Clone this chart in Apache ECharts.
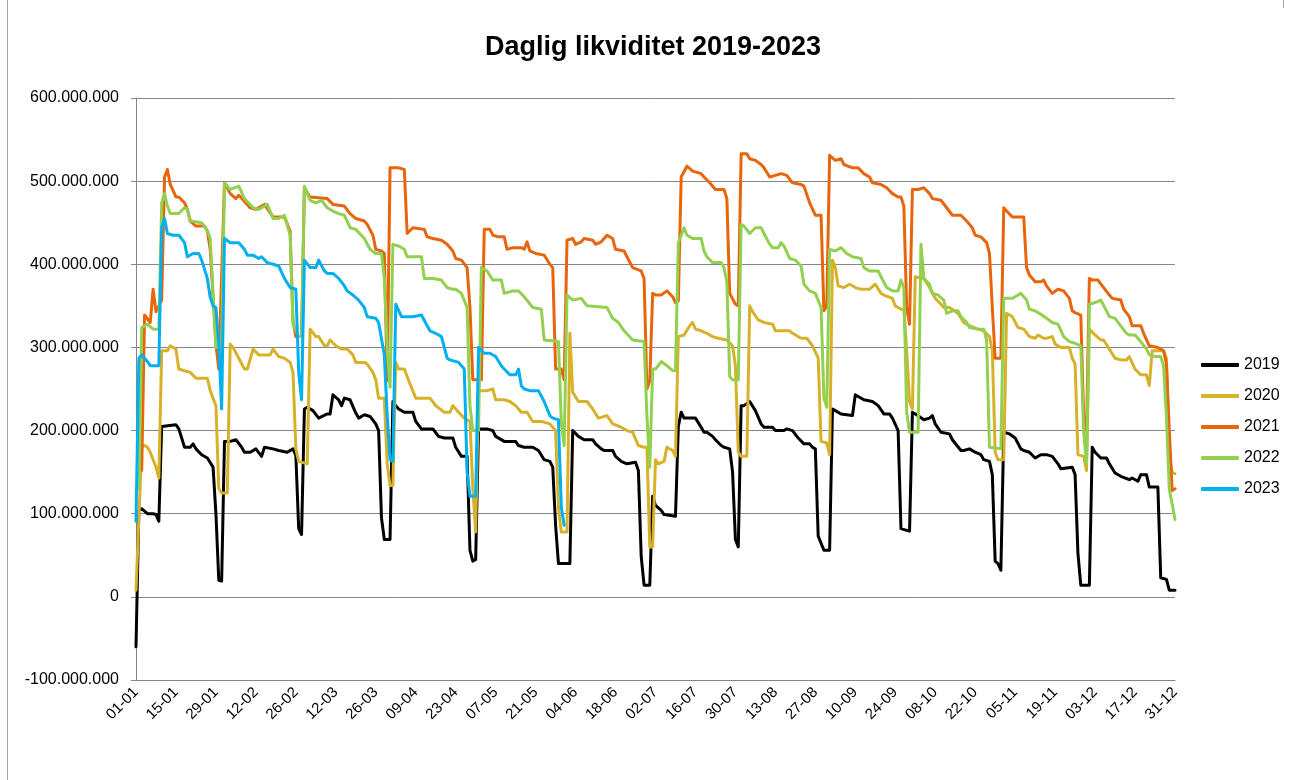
<!DOCTYPE html>
<html>
<head>
<meta charset="utf-8">
<title>Daglig likviditet 2019-2023</title>
<script src="https://cdn.jsdelivr.net/npm/echarts@6/dist/echarts.min.js"></script>
<style>
html, body { margin: 0; padding: 0; background: #fff; }
#chart { width: 1290px; height: 780px; }
</style>
</head>
<body>
<div id="chart"></div>
<script>
// datoetiketter på x-aksen, hver 14. dag (dag 0 = 01-01)
const tickLabels = ['01-01', '15-01', '29-01', '12-02', '26-02', '12-03', '26-03', '09-04', '23-04',
  '07-05', '21-05', '04-06', '18-06', '02-07', '16-07', '30-07', '13-08', '27-08', '10-09',
  '24-09', '08-10', '22-10', '05-11', '19-11', '03-12', '17-12', '31-12']
const years = ['2019', '2020', '2021', '2022', '2023']
const colors = ['#000000', '#d8b12a', '#e8650c', '#92d050', '#00b0f0']

// [dag i året, likviditet i mio.]
const y2019 = [[0, -60], [1, 104], [2, 106], [4, 100], [6, 100], [7, 99], [8, 91], [9, 205], [14, 207], [15, 202],
  [16, 191], [17, 180], [19, 180], [20, 184], [21, 178], [23, 171], [25, 167], [27, 156], [28, 100], [29, 20],
  [30, 19], [31, 187], [33, 187], [35, 189], [37, 180], [38, 174], [40, 174], [42, 178], [44, 169], [45, 180],
  [48, 178], [50, 176], [53, 174], [55, 178], [56, 170], [57, 82], [58, 75], [59, 226], [60, 228], [62, 224],
  [64, 215], [67, 220], [68, 220], [69, 243], [71, 237], [72, 230], [73, 239], [75, 237], [77, 221], [78, 215],
  [80, 219], [82, 217], [84, 208], [85, 200], [86, 95], [87, 69], [89, 69], [90, 235], [91, 230], [92, 226],
  [94, 222], [97, 222], [98, 211], [100, 202], [104, 202], [106, 193], [108, 191], [111, 191], [112, 180], [114, 169],
  [116, 169], [117, 56], [118, 43], [119, 45], [120, 202], [123, 202], [125, 200], [126, 193], [129, 187], [133, 187],
  [134, 182], [136, 180], [139, 180], [141, 176], [143, 165], [145, 163], [146, 156], [147, 86], [148, 40], [152, 40],
  [153, 200], [155, 193], [157, 189], [160, 189], [161, 184], [163, 178], [164, 176], [167, 176], [168, 169], [170, 163],
  [172, 160], [175, 162], [176, 152], [177, 48], [178, 14], [180, 14], [181, 121], [182, 110], [184, 104], [185, 99],
  [189, 97], [190, 205], [191, 222], [192, 215], [196, 215], [198, 204], [199, 198], [200, 198], [202, 193], [203, 189],
  [205, 182], [206, 180], [208, 178], [209, 150], [210, 69], [211, 60], [212, 230], [213, 230], [215, 235], [217, 224],
  [219, 208], [220, 204], [223, 204], [224, 200], [227, 200], [228, 202], [230, 200], [232, 191], [234, 184], [236, 184],
  [237, 180], [238, 178], [239, 73], [241, 56], [243, 56], [244, 226], [245, 224], [247, 220], [251, 218], [252, 243],
  [253, 241], [255, 237], [258, 235], [260, 230], [262, 220], [264, 220], [265, 215], [267, 200], [268, 82], [270, 80],
  [271, 79], [272, 222], [274, 218], [276, 213], [278, 215], [279, 218], [280, 208], [282, 198], [285, 196], [286, 189],
  [289, 176], [290, 176], [292, 178], [294, 174], [296, 171], [297, 165], [299, 163], [300, 147], [301, 43], [302, 40],
  [303, 32], [304, 198], [306, 196], [308, 191], [310, 178], [311, 176], [313, 174], [315, 167], [317, 171], [319, 171],
  [321, 169], [323, 160], [324, 154], [328, 156], [329, 147], [330, 52], [331, 14], [334, 14], [335, 180], [336, 174],
  [338, 167], [340, 167], [341, 160], [343, 149], [345, 145], [348, 141], [349, 143], [351, 139], [352, 147], [354, 147],
  [355, 132], [358, 132], [359, 23], [361, 21], [362, 8], [364, 8]]

const y2020 = [[0, 8], [2, 180], [3, 182], [4, 180], [5, 174], [7, 156], [8, 143], [9, 296], [11, 296], [12, 302],
  [14, 298], [15, 274], [17, 272], [19, 270], [21, 263], [25, 263], [26, 248], [28, 230], [29, 130], [30, 125],
  [32, 125], [33, 304], [34, 300], [36, 287], [38, 274], [39, 274], [41, 298], [43, 291], [47, 291], [48, 298],
  [50, 289], [52, 287], [54, 282], [55, 270], [56, 178], [57, 163], [60, 160], [61, 322], [63, 313], [64, 313],
  [66, 302], [67, 302], [68, 309], [70, 302], [72, 298], [74, 298], [76, 291], [77, 282], [80, 282], [81, 280],
  [83, 270], [84, 261], [85, 239], [87, 239], [88, 160], [89, 134], [90, 134], [91, 282], [92, 274], [94, 274],
  [96, 256], [98, 239], [103, 239], [105, 230], [108, 222], [110, 222], [111, 230], [113, 222], [115, 215], [117, 211],
  [118, 130], [119, 78], [120, 248], [123, 248], [125, 250], [126, 237], [129, 237], [131, 235], [133, 230], [135, 222],
  [137, 222], [139, 211], [142, 211], [145, 208], [147, 200], [148, 108], [149, 78], [151, 78], [152, 317], [153, 246],
  [155, 235], [158, 235], [160, 226], [162, 215], [165, 218], [167, 208], [170, 204], [172, 200], [174, 198], [176, 182],
  [178, 180], [179, 180], [180, 60], [181, 60], [182, 165], [183, 160], [185, 163], [186, 180], [188, 176], [189, 169],
  [190, 313], [192, 315], [194, 326], [195, 330], [196, 322], [198, 320], [200, 317], [202, 313], [204, 311], [207, 309],
  [209, 302], [210, 278], [211, 174], [212, 169], [214, 169], [215, 350], [216, 343], [218, 333], [220, 330], [223, 328],
  [224, 320], [229, 320], [230, 317], [233, 311], [235, 311], [237, 302], [239, 287], [240, 187], [242, 185], [243, 171],
  [244, 405], [245, 396], [246, 374], [248, 372], [250, 376], [252, 372], [254, 370], [257, 370], [259, 376], [261, 365],
  [262, 363], [265, 359], [266, 350], [268, 346], [269, 346], [270, 296], [271, 235], [272, 226], [273, 385], [276, 383],
  [278, 372], [280, 359], [282, 352], [283, 348], [285, 348], [288, 341], [290, 330], [292, 326], [295, 322], [297, 320],
  [299, 313], [300, 296], [301, 174], [302, 165], [304, 165], [305, 341], [307, 337], [309, 324], [311, 322], [313, 313],
  [315, 311], [316, 315], [318, 311], [319, 311], [321, 313], [322, 304], [324, 300], [327, 300], [328, 287], [329, 280],
  [330, 171], [332, 169], [333, 152], [334, 322], [336, 315], [338, 309], [339, 309], [341, 298], [343, 287], [345, 285],
  [347, 285], [348, 289], [350, 274], [352, 267], [354, 267], [355, 254], [356, 296], [360, 296], [361, 287], [362, 169],
  [363, 150], [364, 148]]

const y2021 = [[2, 152], [3, 339], [5, 330], [6, 370], [7, 343], [9, 357], [10, 505], [11, 514], [12, 496], [14, 481],
  [15, 481], [17, 474], [18, 466], [19, 452], [21, 446], [24, 446], [25, 440], [26, 418], [28, 304], [29, 274],
  [31, 498], [33, 485], [35, 479], [36, 483], [40, 468], [42, 466], [45, 472], [48, 457], [52, 457], [54, 440],
  [55, 332], [56, 313], [58, 313], [59, 492], [61, 481], [67, 479], [69, 472], [73, 470], [75, 461], [77, 455],
  [80, 452], [81, 448], [83, 435], [84, 418], [86, 416], [87, 413], [88, 260], [89, 516], [92, 516], [94, 514],
  [95, 437], [97, 444], [101, 442], [102, 433], [104, 431], [107, 429], [109, 424], [111, 416], [112, 407], [114, 405],
  [116, 396], [117, 348], [118, 261], [121, 261], [122, 442], [124, 442], [125, 435], [127, 433], [129, 433], [130, 418],
  [132, 420], [135, 420], [136, 418], [137, 427], [138, 416], [140, 413], [143, 411], [145, 400], [146, 396], [147, 274],
  [149, 274], [150, 261], [151, 429], [153, 431], [154, 424], [156, 427], [157, 431], [160, 429], [161, 424], [163, 427],
  [165, 435], [167, 431], [168, 418], [171, 416], [172, 409], [174, 396], [177, 392], [178, 383], [179, 250], [180, 260],
  [181, 365], [182, 363], [184, 363], [186, 368], [188, 361], [189, 354], [190, 356], [191, 505], [193, 518], [195, 512],
  [198, 509], [199, 505], [201, 498], [203, 490], [206, 490], [207, 479], [208, 365], [210, 352], [211, 350], [212, 533],
  [214, 533], [215, 527], [217, 525], [219, 520], [220, 516], [222, 505], [224, 507], [226, 509], [228, 507], [230, 498],
  [233, 496], [234, 494], [236, 474], [238, 459], [240, 459], [241, 344], [242, 350], [243, 531], [245, 525], [247, 527],
  [248, 520], [251, 516], [253, 516], [255, 509], [257, 505], [258, 498], [261, 496], [263, 492], [265, 485], [267, 481],
  [268, 481], [269, 470], [270, 348], [271, 328], [272, 490], [274, 490], [276, 492], [278, 485], [279, 479], [282, 477],
  [284, 468], [286, 459], [289, 459], [291, 452], [293, 444], [294, 435], [296, 433], [298, 426], [299, 413], [300, 348],
  [301, 287], [303, 287], [304, 468], [305, 464], [307, 457], [311, 457], [312, 396], [313, 387], [315, 379], [317, 379],
  [318, 381], [319, 374], [321, 365], [323, 370], [325, 368], [327, 359], [328, 344], [329, 342], [331, 339], [332, 217],
  [333, 200], [334, 383], [335, 381], [337, 381], [339, 372], [341, 363], [342, 359], [345, 357], [346, 346], [348, 337],
  [349, 326], [352, 326], [353, 317], [355, 302], [358, 300], [360, 296], [361, 280], [362, 200], [363, 128], [364, 130]]

const y2022 = [[1, 130], [2, 324], [4, 328], [6, 322], [8, 322], [9, 474], [10, 485], [11, 470], [12, 461], [15, 461],
  [17, 468], [18, 466], [19, 452], [23, 450], [25, 440], [26, 431], [27, 365], [28, 300], [30, 300], [31, 498],
  [33, 490], [36, 494], [38, 479], [41, 468], [43, 466], [46, 472], [48, 455], [50, 455], [52, 459], [54, 435],
  [55, 328], [57, 313], [58, 313], [59, 494], [61, 477], [63, 474], [65, 477], [67, 468], [69, 464], [71, 461],
  [73, 459], [75, 444], [77, 442], [80, 431], [82, 418], [84, 413], [86, 413], [87, 383], [88, 300], [89, 252],
  [90, 424], [92, 422], [94, 418], [95, 409], [100, 409], [101, 383], [104, 383], [107, 381], [109, 372], [111, 370],
  [112, 370], [114, 365], [116, 348], [117, 230], [118, 200], [120, 200], [121, 396], [123, 392], [125, 381], [128, 381],
  [129, 365], [132, 368], [134, 368], [136, 361], [139, 348], [142, 346], [143, 309], [148, 307], [149, 210], [150, 182],
  [151, 363], [153, 357], [156, 359], [158, 350], [165, 348], [167, 335], [169, 330], [171, 320], [174, 309], [178, 307],
  [179, 217], [180, 156], [181, 274], [182, 274], [184, 283], [186, 278], [188, 272], [189, 272], [190, 426], [192, 444],
  [193, 435], [195, 431], [198, 431], [199, 416], [200, 409], [202, 402], [205, 402], [206, 396], [207, 379], [208, 265],
  [209, 261], [211, 261], [212, 448], [213, 446], [215, 437], [217, 444], [219, 444], [220, 437], [222, 424], [223, 420],
  [225, 420], [226, 426], [227, 422], [229, 407], [231, 405], [233, 398], [234, 376], [236, 368], [238, 365], [240, 348],
  [241, 239], [242, 228], [243, 418], [245, 416], [247, 420], [249, 413], [251, 409], [254, 407], [255, 396], [257, 392],
  [260, 392], [261, 385], [263, 372], [265, 368], [267, 368], [268, 381], [269, 372], [270, 222], [271, 198], [274, 198],
  [275, 424], [276, 383], [278, 376], [279, 365], [281, 363], [283, 357], [284, 341], [286, 344], [288, 344], [289, 337],
  [291, 330], [292, 324], [295, 322], [297, 322], [298, 309], [299, 180], [303, 178], [304, 359], [307, 359], [308, 361],
  [310, 365], [312, 357], [313, 346], [315, 344], [317, 340], [319, 335], [321, 330], [323, 328], [325, 313], [327, 307],
  [329, 305], [331, 302], [332, 198], [333, 160], [334, 352], [336, 354], [338, 357], [340, 344], [341, 337], [343, 335],
  [345, 326], [347, 317], [348, 315], [350, 315], [352, 307], [354, 298], [355, 291], [357, 289], [359, 289], [360, 278],
  [361, 217], [362, 130], [364, 93]]

const y2023 = [[0, 91], [1, 287], [2, 291], [4, 283], [5, 278], [8, 278], [9, 444], [10, 455], [11, 437], [13, 435],
  [15, 435], [17, 426], [18, 409], [20, 413], [22, 413], [23, 405], [25, 383], [26, 360], [27, 350], [28, 348],
  [29, 304], [30, 226], [31, 431], [33, 426], [36, 426], [38, 418], [39, 411], [41, 411], [43, 407], [44, 409],
  [46, 402], [48, 400], [50, 398], [52, 383], [54, 372], [56, 370], [57, 270], [58, 237], [59, 405], [61, 396],
  [63, 396], [64, 405], [66, 392], [67, 389], [69, 389], [71, 383], [73, 374], [74, 368], [76, 363], [78, 357],
  [80, 348], [81, 337], [84, 335], [85, 330], [87, 291], [88, 218], [89, 165], [90, 163], [91, 352], [93, 337],
  [97, 337], [100, 339], [102, 326], [103, 320], [105, 317], [107, 313], [109, 287], [110, 285], [113, 282], [115, 274],
  [116, 150], [117, 121], [119, 121], [120, 300], [122, 293], [124, 293], [126, 289], [128, 278], [129, 274], [131, 267],
  [133, 267], [134, 274], [135, 254], [136, 250], [138, 248], [141, 248], [143, 235], [145, 218], [146, 215], [148, 213],
  [149, 108], [150, 86]]

const yearData = [y2019, y2020, y2021, y2022, y2023]

function fmtNok(v) {
  const s = String(Math.abs(v)).replace(/\B(?=(\d{3})+(?!\d))/g, '.')
  return v < 0 ? '-' + s : s
}

const chart = echarts.init(document.getElementById('chart'), null, { renderer: 'canvas' })

const option = {
  animation: false,
  backgroundColor: '#fff',
  title: {
    text: 'Daglig likviditet 2019-2023',
    left: 648,
    top: 29,
    textAlign: 'center',
    textStyle: { fontFamily: 'Liberation Sans', fontSize: 27, fontWeight: 'bold', color: '#000' }
  },
  legend: {
    orient: 'vertical',
    left: 1196,
    top: 352,
    itemWidth: 38,
    itemHeight: 4,
    itemGap: 15,
    icon: 'roundRect',
    textStyle: { fontFamily: 'Liberation Sans', fontSize: 16, color: '#000' },
    data: years
  },
  grid: { left: 136, right: 115, top: 98, bottom: 100, containLabel: false },
  xAxis: {
    type: 'value',
    min: 0,
    max: 364,
    interval: 14,
    axisLine: { show: true, onZero: false, lineStyle: { color: '#868686', width: 1 } },
    axisTick: { show: false },
    splitLine: { show: false },
    axisLabel: {
      rotate: 45,
      margin: 10,
      fontFamily: 'Liberation Sans',
      fontSize: 15,
      color: '#000',
      formatter: v => tickLabels[Math.round(v / 14)]
    }
  },
  yAxis: {
    type: 'value',
    min: -100000000,
    max: 600000000,
    interval: 100000000,
    axisLine: { show: true, lineStyle: { color: '#868686', width: 1 } },
    axisTick: { show: true, length: 5, lineStyle: { color: '#868686' } },
    splitLine: { show: true, lineStyle: { color: '#868686', width: 1 } },
    axisLabel: {
      margin: 17,
      fontFamily: 'Liberation Sans',
      fontSize: 16,
      color: '#000',
      formatter: fmtNok
    }
  },
  graphic: [
    { type: 'line', shape: { x1: 7.5, y1: 0, x2: 7.5, y2: 780 }, style: { stroke: '#a6a6a6', lineWidth: 1 } },
    { type: 'line', shape: { x1: 1283.5, y1: 0, x2: 1283.5, y2: 8 }, style: { stroke: '#a6a6a6', lineWidth: 1 } }
  ],
  series: yearData.map((arr, i) => ({
    name: years[i],
    type: 'line',
    data: arr.map(p => [p[0], p[1] * 1000000]),
    showSymbol: false,
    symbol: 'none',
    z: 2 + i,
    color: colors[i],
    lineStyle: { width: 3, color: colors[i], join: 'round', cap: 'round' }
  }))
}

chart.setOption(option)
</script>
</body>
</html>
